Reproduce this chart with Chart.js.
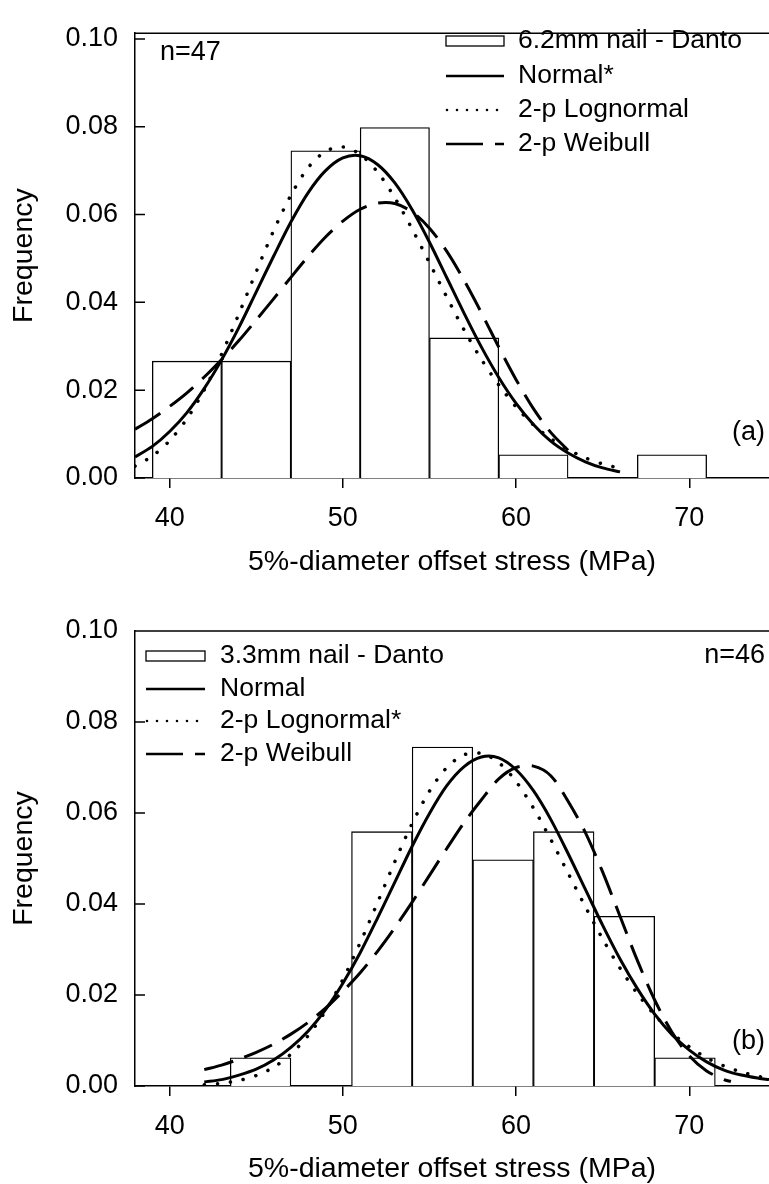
<!DOCTYPE html>
<html>
<head>
<meta charset="utf-8">
<script src="https://cdn.jsdelivr.net/npm/chart.js@4.4.1/dist/chart.umd.min.js"></script>
<style>
    body { margin: 0; background: #fff; }
    canvas { display: block; }
</style>
</head>
<body>
<canvas id="chartA" width="769" height="590"></canvas>
<canvas id="chartB" width="769" height="594"></canvas>
<script>
// Ejes comunes
const xTicks = [40, 50, 60, 70];
const yTicks = [0, 0.02, 0.04, 0.06, 0.08, 0.10];
const xTitle = '5%-diameter offset stress (MPa)';
const yTitle = 'Frequency';

// Panel (a): clavo de 6.2mm, n=47
const labelsA = ['6.2mm nail - Danto', 'Normal*', '2-p Lognormal', '2-p Weibull'];
const binCentersA = [41, 45, 49, 53, 57, 61, 65, 69];
const freqA = [0.0266, 0.0266, 0.0745, 0.0798, 0.0319, 0.0053, 0, 0.0053];
const curveXA = [38, 39, 40, 41, 42, 43, 44, 45, 46, 47, 48, 49, 50, 51, 52, 53, 54, 55, 56, 57, 58, 59, 60, 61, 62, 63, 64, 65, 66];
const normalA = [0.0048, 0.0072, 0.0106, 0.0149, 0.0204, 0.0269, 0.0343, 0.0424, 0.0505, 0.0583, 0.0650, 0.0700, 0.0729, 0.0734, 0.0714, 0.0672, 0.0611, 0.0537, 0.0456, 0.0375, 0.0298, 0.0229, 0.0170, 0.0122, 0.0084, 0.0057, 0.0037, 0.0023, 0.0014];
const lognormalA = [0.0027, 0.0050, 0.0085, 0.0135, 0.0201, 0.0282, 0.0374, 0.0470, 0.0563, 0.0644, 0.0707, 0.0744, 0.0754, 0.0737, 0.0697, 0.0638, 0.0567, 0.0490, 0.0412, 0.0337, 0.0270, 0.0212, 0.0162, 0.0121, 0.0090, 0.0065, 0.0046, 0.0032, 0.0022];
const weibullXA = [38, 39, 40, 41, 42, 43, 44, 45, 46, 47, 48, 49, 50, 51, 52, 53, 54, 55, 56, 57, 58, 59, 60, 61, 62, 63];
const weibullA = [0.0111, 0.0135, 0.0163, 0.0194, 0.0230, 0.0270, 0.0313, 0.0360, 0.0408, 0.0457, 0.0505, 0.0549, 0.0585, 0.0612, 0.0626, 0.0625, 0.0606, 0.0569, 0.0516, 0.0450, 0.0376, 0.0298, 0.0224, 0.0158, 0.0104, 0.0063];

// Panel (b): clavo de 3.3mm, n=46
const labelsB = ['3.3mm nail - Danto', 'Normal', '2-p Lognormal*', '2-p Weibull'];
const binCentersB = [45.25, 48.75, 52.25, 55.75, 59.25, 62.75, 66.25, 69.75];
const freqB = [0.0062, 0, 0.0559, 0.0745, 0.0497, 0.0559, 0.0373, 0.0062];
const curveXB = [42, 43, 44, 45, 46, 47, 48, 49, 50, 51, 52, 53, 54, 55, 56, 57, 58, 59, 60, 61, 62, 63, 64, 65, 66, 67, 68, 69, 70, 71, 72, 73, 74, 74.6];
const normalB = [0.0009, 0.0014, 0.0024, 0.0037, 0.0057, 0.0085, 0.0121, 0.0168, 0.0226, 0.0293, 0.0369, 0.0448, 0.0527, 0.0599, 0.0660, 0.0702, 0.0723, 0.0721, 0.0695, 0.0649, 0.0586, 0.0511, 0.0432, 0.0353, 0.0279, 0.0214, 0.0158, 0.0113, 0.0079, 0.0053, 0.0035, 0.0024, 0.0017, 0.0014];
const lognormalB = [0.0003, 0.0006, 0.0012, 0.0023, 0.0041, 0.0070, 0.0111, 0.0165, 0.0234, 0.0315, 0.0403, 0.0493, 0.0577, 0.0648, 0.0700, 0.0728, 0.0731, 0.0711, 0.0669, 0.0611, 0.0542, 0.0468, 0.0394, 0.0323, 0.0259, 0.0203, 0.0156, 0.0117, 0.0086, 0.0062, 0.0044, 0.0031, 0.0021, 0.0017];
const weibullXB = [42, 43, 44, 45, 46, 47, 48, 49, 50, 51, 52, 53, 54, 55, 56, 57, 58, 59, 60, 61, 62, 63, 64, 65, 66, 67, 68, 69, 70, 71, 72, 72.4];
const weibullB = [0.0036, 0.0046, 0.0059, 0.0074, 0.0092, 0.0114, 0.0140, 0.0171, 0.0208, 0.0249, 0.0296, 0.0348, 0.0404, 0.0463, 0.0522, 0.0579, 0.0629, 0.0675, 0.0700, 0.0703, 0.0682, 0.0626, 0.0557, 0.0470, 0.0373, 0.0276, 0.0189, 0.0118, 0.0066, 0.0033, 0.0014, 0.0010];

const FONT = "'Liberation Sans', Arial, Helvetica, sans-serif";

function toPoints(xs, ys) {
    return xs.map((x, i) => ({ x: x, y: ys[i] }));
}

function curve(label, xs, ys, dash, extra) {
    return Object.assign({
        type: 'line',
        label: label,
        data: toPoints(xs, ys),
        borderColor: '#000',
        borderWidth: 3,
        borderDash: dash,
        pointRadius: 0,
        tension: 0.3,
        fill: false,
        order: 1
    }, extra || {});
}

// Dibuja el marco superior, las marcas internas del eje Y, la leyenda y las notas
function makeDecor(cfg) {
    return {
        id: 'decor',
        afterDraw(chart) {
            const ctx = chart.ctx;
            const a = chart.chartArea;
            const ys = chart.scales.y;
            ctx.save();
            ctx.strokeStyle = '#000';
            ctx.lineWidth = 1.5;
            ctx.beginPath();
            ctx.moveTo(a.left, a.top);
            ctx.lineTo(a.right, a.top);
            ys.ticks.forEach(t => {
                const py = ys.getPixelForValue(t.value);
                ctx.moveTo(a.left, py);
                ctx.lineTo(a.left + 10, py);
            });
            ctx.stroke();

            ctx.fillStyle = '#000';
            ctx.textBaseline = 'middle';
            ctx.textAlign = 'left';
            ctx.font = '26.5px ' + FONT;
            const x0 = cfg.sampleX, w = cfg.sampleW;
            chart.data.datasets.forEach((ds, i) => {
                const y = cfg.rows[i];
                ctx.save();
                ctx.lineWidth = 2.5;
                ctx.lineCap = 'butt';
                ctx.beginPath();
                if (ds.type !== 'line') {
                    ctx.lineWidth = 1.3;
                    ctx.strokeRect(x0, y - 5, w, 10);
                } else if (ds.sample === 'dot') {
                    for (let x = x0 + 1; x <= x0 + w; x += 10) {
                        ctx.moveTo(x + 1.3, y);
                        ctx.arc(x, y, 1.3, 0, Math.PI * 2);
                    }
                    ctx.fill();
                } else if (ds.sample === 'dash') {
                    ctx.moveTo(x0, y);
                    ctx.lineTo(x0 + 37, y);
                    ctx.moveTo(x0 + 49, y);
                    ctx.lineTo(x0 + w, y);
                    ctx.stroke();
                } else {
                    ctx.moveTo(x0, y);
                    ctx.lineTo(x0 + w, y);
                    ctx.stroke();
                }
                ctx.restore();
                ctx.fillText(ds.label, cfg.textX, y);
            });

            ctx.font = '27px ' + FONT;
            cfg.notes.forEach(n => {
                ctx.textAlign = n.align;
                ctx.fillText(n.text, n.x, n.y);
            });
            ctx.restore();
        }
    };
}

function buildChart(id, p) {
    const canvas = document.getElementById(id);
    const h = canvas.height;
    const datasets = [
        {
            type: 'bar',
            label: p.labels[0],
            data: toPoints(p.bins, p.freq),
            backgroundColor: '#fff',
            borderColor: '#000',
            borderWidth: 1.3,
            barPercentage: 1,
            categoryPercentage: 1,
            order: 2
        },
        curve(p.labels[1], p.curveX, p.normal, []),
        curve(p.labels[2], p.curveX, p.lognormal, [0.1, 13], { borderWidth: 3.5, borderCapStyle: 'round', sample: 'dot' }),
        curve(p.labels[3], p.weibullX, p.weibull, [30, 12], { sample: 'dash' })
    ];
    const tickFont = { family: FONT, size: 27, lineHeight: 1.2 };
    const titleFont = { family: FONT, size: 28.5, lineHeight: 1 };

    return new Chart(canvas, {
        type: 'bar',
        data: { datasets: datasets },
        options: {
            responsive: false,
            animation: false,
            layout: { padding: { top: p.plotTop, right: 0, bottom: 0, left: 0 } },
            plugins: { legend: { display: false }, tooltip: { enabled: false } },
            scales: {
                x: {
                    type: 'linear',
                    min: 38,
                    max: 74.6,
                    offset: false,
                    afterBuildTicks: s => { s.ticks = xTicks.map(v => ({ value: v })); },
                    afterFit: s => { s.height = h - p.plotBottom; },
                    grid: { display: true, offset: false, drawOnChartArea: false, drawTicks: true, tickLength: 10, color: '#000', lineWidth: 1.5 },
                    border: { display: true, color: '#000', width: 1.5 },
                    ticks: { color: '#000', font: tickFont, padding: 14, maxRotation: 0, callback: v => String(v) },
                    title: { display: true, text: xTitle, color: '#000', font: titleFont, padding: { top: 0, bottom: p.xTitlePad } }
                },
                y: {
                    min: 0,
                    max: p.yMax,
                    afterBuildTicks: s => { s.ticks = yTicks.map(v => ({ value: v })); },
                    afterFit: s => { s.width = 135; },
                    grid: { display: false, drawTicks: false },
                    border: { display: true, color: '#000', width: 1.5 },
                    ticks: { color: '#000', font: tickFont, padding: 17, callback: v => Number(v).toFixed(2) },
                    title: { display: true, text: yTitle, color: '#000', font: titleFont, padding: { top: 10, bottom: 0 } }
                }
            }
        },
        plugins: [makeDecor(p.decor)]
    });
}

document.addEventListener('DOMContentLoaded', function () {
    buildChart('chartA', {
        labels: labelsA, bins: binCentersA, freq: freqA,
        curveX: curveXA, normal: normalA, lognormal: lognormalA,
        weibullX: weibullXA, weibull: weibullA,
        plotTop: 22, plotBottom: 478, yMax: 0.1013, xTitlePad: 13.75,
        decor: {
            sampleX: 446, sampleW: 58, textX: 518, rows: [41, 76, 110, 144],
            notes: [
                { text: 'n=47', x: 160, y: 53, align: 'left' },
                { text: '(a)', x: 765, y: 433, align: 'right' }
            ]
        }
    });
    buildChart('chartB', {
        labels: labelsB, bins: binCentersB, freq: freqB,
        curveX: curveXB, normal: normalB, lognormal: lognormalB,
        weibullX: weibullXB, weibull: weibullB,
        plotTop: 41, plotBottom: 496, yMax: 0.10, xTitlePad: 0.75,
        decor: {
            sampleX: 146, sampleW: 59, textX: 220, rows: [66, 99, 131, 164],
            notes: [
                { text: 'n=46', x: 765, y: 66, align: 'right' },
                { text: '(b)', x: 765, y: 452, align: 'right' }
            ]
        }
    });
});
</script>
</body>
</html>
